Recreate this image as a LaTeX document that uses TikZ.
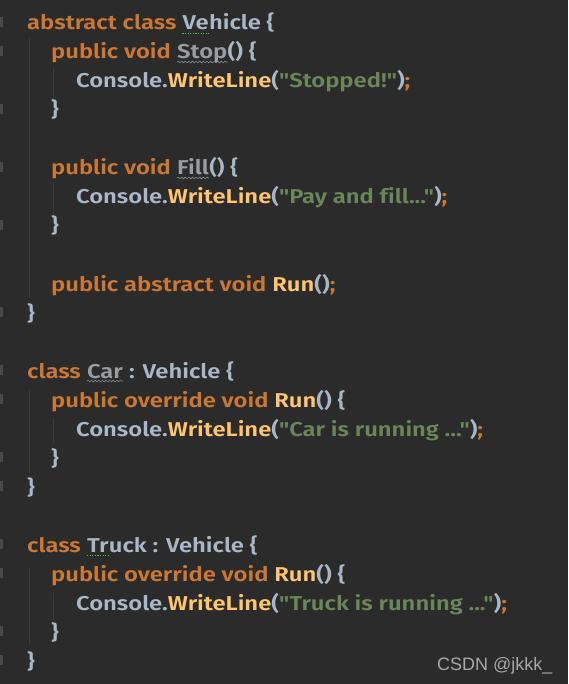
\documentclass[tikz,border=0pt]{standalone}
\usepackage{fontspec}
\setmainfont{Fira Sans}[UprightFont=* SemiBold, FakeStretch=1.19, Ligatures={TeXOff,NoCommon}]
\newfontfamily\wmfont{Liberation Sans}
\usetikzlibrary{decorations.pathmorphing}

\definecolor{bgc}{HTML}{2B2B2B}
\definecolor{kwc}{HTML}{CC7832}
\definecolor{idc}{HTML}{A9B7C6}
\definecolor{fnc}{HTML}{FFC66D}
\definecolor{strc}{HTML}{6A8759}
\definecolor{unc}{HTML}{9A9DA0}
\definecolor{wavec}{HTML}{85888B}
\definecolor{dotc}{HTML}{32CD32}
\definecolor{guidec}{HTML}{3A3A3A}
\definecolor{gutc}{HTML}{4A4A4A}
\definecolor{wmc}{HTML}{A8A8A8}

\newcommand{\kw}[1]{\textcolor{kwc}{#1}}
\newcommand{\fn}[1]{\textcolor{fnc}{#1}}
\newcommand{\str}[1]{\textcolor{strc}{#1}}
\newlength{\spw}

\begin{document}
{\fontsize{20}{24}\selectfont\global\spw=\fontdimen2\font}
\begin{tikzpicture}[x=1pt, y=-1pt,
    code/.style={anchor=base west, inner sep=0pt, text=idc,
        font=\fontsize{20}{24}\selectfont},
    guide/.style={draw=guidec, line width=0.8pt},
    gutter/.style={fill=gutc},
    wavy/.style={draw=wavec, line width=0.6pt, decorate,
        decoration={snake, amplitude=0.9pt, segment length=3.6pt}},
    dotline/.style={draw=dotc, line width=1.2pt, dash pattern=on 1.2pt off 1.4pt}]
    \fill[bgc] (0,0) rectangle (568,684);
    % gutter marks
    \foreach \n in {1,2,4,6,8,11,13,14,16,17,19,20,22,23}
        \fill[gutter] (0,{30+29*(\n-1)-13}) rectangle (3,{30+29*(\n-1)-3});
    % indent guides
    \draw[guide] (29,38) -- (29,298);
    \draw[guide] (53,67) -- (53,100);
    \draw[guide] (53,183) -- (53,215);
    \draw[guide] (29,390) -- (29,473);
    \draw[guide] (53,418) -- (53,443);
    \draw[guide] (29,568) -- (29,645);
    \draw[guide] (53,593) -- (53,620);
    % abstract class
    \node[code] (l1) at (27,30) {\kw{abstract class}};
    \node[code, xshift=\spw] (ve) at (l1.base east) {Ve};
    \node[code] (l1b) at (ve.base east) {hicle \{};
    \node[code] (l2) at (51,59) {\kw{public void}};
    \node[code, xshift=\spw, text=unc] (stop) at (l2.base east) {Stop};
    \node[code] (l2b) at (stop.base east) {() \{};
    \node[code] (l3) at (76,88) {Console.\fn{WriteLine}(\str{"Stopped!"})\kw{;}};
    \node[code] (l4) at (51,117) {\}};
    \node[code] (l6) at (51,175) {\kw{public void}};
    \node[code, xshift=\spw, text=unc] (fill) at (l6.base east) {Fill};
    \node[code] (l6b) at (fill.base east) {() \{};
    \node[code] (l7) at (76,204) {Console.\fn{WriteLine}(\str{"Pay and fill..."})\kw{;}};
    \node[code] (l8) at (51,233) {\}};
    \node[code] (l10) at (51,291) {\kw{public abstract void} \fn{Run}()\kw{;}};
    \node[code] (l11) at (27,320) {\}};
    % class Car
    \node[code] (l13) at (27,378) {\kw{class}};
    \node[code, xshift=\spw, text=unc] (car) at (l13.base east) {Car};
    \node[code, xshift=\spw] (l13b) at (car.base east) {: Vehicle \{};
    \node[code] (l14) at (51,407) {\kw{public override void} \fn{Run}() \{};
    \node[code] (l15) at (76,436) {Console.\fn{WriteLine}(\str{"Car is running ..."})\kw{;}};
    \node[code] (l16) at (51,465) {\}};
    \node[code] (l17) at (27,494) {\}};
    % class Truck
    \node[code] (l19) at (27,552) {\kw{class}};
    \node[code, xshift=\spw] (tr) at (l19.base east) {Tr};
    \node[code] (l19b) at (tr.base east) {uck : Vehicle \{};
    \node[code] (l20) at (51,581) {\kw{public override void} \fn{Run}() \{};
    \node[code] (l21) at (76,610) {Console.\fn{WriteLine}(\str{"Truck is running ..."})\kw{;}};
    \node[code] (l22) at (51,639) {\}};
    \node[code] (l23) at (27,668) {\}};
    % underlines
    \draw[dotline] ([yshift=-3.5pt]ve.base west) -- ([yshift=-3.5pt]ve.base east);
    \draw[dotline] ([yshift=-3.5pt]tr.base west) -- ([yshift=-3.5pt]tr.base east);
    \draw[wavy] ([yshift=-3pt]stop.base west) -- ([yshift=-3pt]stop.base east);
    \draw[wavy] ([yshift=-3pt]fill.base west) -- ([yshift=-3pt]fill.base east);
    \draw[wavy] ([yshift=-3pt]car.base west) -- ([yshift=-3pt]car.base east);
    % watermark
    \node[anchor=base west, inner sep=0pt, text=wmc, font=\wmfont\fontsize{18}{22}\selectfont]
        (wm) at (437,670) {CSDN @jkkk\_};
\end{tikzpicture}
\end{document}
